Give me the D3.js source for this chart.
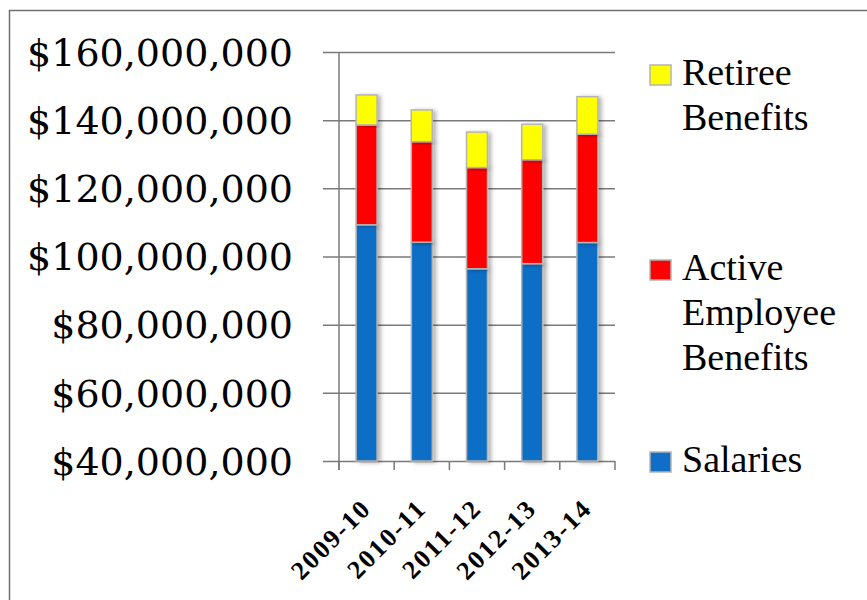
<!DOCTYPE html>
<html>
<head>
<meta charset="utf-8">
<script src="https://cdn.jsdelivr.net/npm/d3@7"></script>
<style>
  body { margin: 0; background: #fff; }
  svg { display: block; }
</style>
</head>
<body>
<div class="chart-container"></div>
<script>
// fiscal years on the x axis
var years = ["2009-10", "2010-11", "2011-12", "2012-13", "2013-14"];

// values (dollars)
var salaries = [109300000, 104200000, 96400000, 97900000, 104100000];
var activeBenefits = [29300000, 29500000, 29700000, 30500000, 31800000];
var retireeBenefits = [8800000, 9300000, 10400000, 10400000, 11000000];

var yTicks = [40000000, 60000000, 80000000, 100000000, 120000000, 140000000, 160000000];

// series, bottom to top
var seriesNames = ["Salaries", "Active Employee Benefits", "Retiree Benefits"];
var seriesColors = ["#116ec6", "#ff0000", "#ffff00"];

// legend, top to bottom (text split in lines like the original)
var legendLines = [["Retiree", "Benefits"], ["Active", "Employee", "Benefits"], ["Salaries"]];
var legendColors = ["#ffff00", "#ff0000", "#116ec6"];
var legendY = [85, 280, 472];

var W = 867, H = 600;
var margin = {top: 52, left: 339},
    width = 276,
    height = 409;

var svg = d3.select(".chart-container").append("svg")
    .attr("width", W)
    .attr("height", H);

// soft shadow behind bars
var defs = svg.append("defs");
var f = defs.append("filter").attr("id", "shadow")
    .attr("x", "-50%").attr("y", "-10%").attr("width", "200%").attr("height", "120%");
f.append("feDropShadow")
    .attr("dx", 3).attr("dy", 1).attr("stdDeviation", 2)
    .attr("flood-color", "#000").attr("flood-opacity", 0.3);

// outer frame
svg.append("rect")
    .attr("x", 9.5).attr("y", 10.5)
    .attr("width", W + 20).attr("height", H + 20)
    .attr("fill", "none")
    .attr("stroke", "#6f6f6f")
    .attr("stroke-width", 1.5);

var g = svg.append("g")
    .attr("transform", "translate(" + margin.left + "," + margin.top + ")");

var x = d3.scaleBand()
    .domain(years)
    .range([0, width])
    .paddingInner(0.62)
    .paddingOuter(0.31);

var y = d3.scaleLinear()
    .domain([40000000, 160000000])
    .range([height, 0]);

// y axis with gridlines
var yAxis = g.append("g")
    .call(d3.axisLeft(y).tickValues(yTicks).tickSize(16).tickPadding(30)
      .tickFormat(function(d) { return "$" + d3.format(",")(d); }));
yAxis.select(".domain").remove();
yAxis.selectAll(".tick line")
    .attr("x1", width)
    .attr("x2", -16)
    .attr("stroke", "#7a7a7a")
    .attr("stroke-width", 1.5);
yAxis.selectAll(".tick text")
    .attr("x", -46)
    .attr("dy", "0.35em")
    .attr("fill", "#000")
    .style("font-family", "'DejaVu Serif', serif")
    .style("font-size", "38px");

// vertical axis line
g.append("line")
    .attr("x1", 0).attr("x2", 0)
    .attr("y1", 0).attr("y2", height + 9)
    .attr("stroke", "#7a7a7a").attr("stroke-width", 1.5);

// category tick marks on x axis
g.selectAll(".xtick")
    .data(d3.range(years.length + 1))
  .enter().append("line")
    .attr("class", "xtick")
    .attr("x1", function(i) { return i * x.step(); })
    .attr("x2", function(i) { return i * x.step(); })
    .attr("y1", height)
    .attr("y2", height + 9)
    .attr("stroke", "#7a7a7a").attr("stroke-width", 1.5);

// stacked bars
var table = years.map(function(yr, i) {
  return {year: yr, s0: salaries[i], s1: activeBenefits[i], s2: retireeBenefits[i]};
});
var stack = d3.stack().keys(["s0", "s1", "s2"]);
var layers = stack(table);

g.selectAll(".layer")
    .data(layers)
  .enter().append("g")
    .attr("class", "layer")
    .attr("fill", function(d, i) { return seriesColors[i]; })
  .selectAll("rect")
    .data(function(d) { return d; })
  .enter().append("rect")
    .attr("x", function(d) { return x(d.data.year); })
    .attr("width", x.bandwidth())
    .attr("y", function(d) { return y(d[1]); })
    .attr("height", function(d) { return y(Math.max(d[0], 40000000)) - y(d[1]); })
    .attr("stroke", "#b4b4b4")
    .attr("stroke-width", 1.5)
    .attr("filter", "url(#shadow)");

// x labels, rotated
g.selectAll(".xlabel")
    .data(years)
  .enter().append("text")
    .attr("class", "xlabel")
    .attr("transform", function(d) {
      return "translate(" + (x(d) + x.bandwidth() / 2 + 6) + "," + (height + 49) + ") rotate(-45)";
    })
    .attr("text-anchor", "end")
    .style("font-family", "'Liberation Serif', serif")
    .style("font-weight", "bold")
    .style("font-size", "26px")
    .style("letter-spacing", "2px")
    .text(function(d) { return d; });

// legend
var leg = svg.selectAll(".legend")
    .data(legendLines)
  .enter().append("g")
    .attr("class", "legend")
    .attr("transform", function(d, i) { return "translate(650," + legendY[i] + ")"; });

leg.append("rect")
    .attr("x", 0).attr("y", -20)
    .attr("width", 21).attr("height", 20)
    .attr("fill", function(d, i) { return legendColors[i]; })
    .attr("stroke", "#b4b4b4")
    .attr("stroke-width", 1.5);

leg.append("text")
    .style("font-family", "'Liberation Serif', serif")
    .style("font-size", "38px")
    .attr("fill", "#000")
  .selectAll("tspan")
    .data(function(d) { return d; })
  .enter().append("tspan")
    .attr("x", 32)
    .attr("y", function(d, j) { return j * 45; })
    .text(function(d) { return d; });
</script>
</body>
</html>
